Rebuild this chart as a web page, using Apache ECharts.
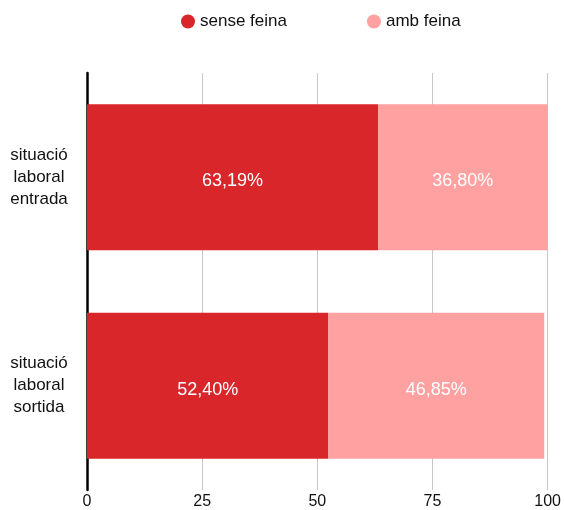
<!DOCTYPE html>
<html>
<head>
<meta charset="utf-8">
<script src="https://cdn.jsdelivr.net/npm/echarts@6/dist/echarts.min.js"></script>
<style>
  html, body { margin: 0; padding: 0; background: #fff; }
  #chart { width: 564px; height: 510px; }
</style>
</head>
<body>
<div id="chart"></div>
<script>
// categories (top to bottom)
const categories = ['situació\nlaboral\nentrada', 'situació\nlaboral\nsortida']
const senseFeina = [63.19, 52.40]
const ambFeina = [36.80, 46.85]
const xTicks = [0, 25, 50, 75, 100]

const fmt = v => v.toFixed(2).replace('.', ',') + '%'

const chart = echarts.init(document.getElementById('chart'))
chart.setOption({
  animation: false,
  textStyle: { fontFamily: 'Liberation Sans, Arial, sans-serif' },
  legend: {
    top: 8,
    left: 176,
    itemGap: 80,
    icon: 'circle',
    itemWidth: 14,
    itemHeight: 14,
    textStyle: { fontSize: 17, color: '#111' },
    data: ['sense feina', 'amb feina']
  },
  grid: { left: 87, right: 14, top: 73, bottom: 14, containLabel: false },
  xAxis: {
    type: 'value',
    min: xTicks[0],
    max: xTicks[xTicks.length - 1],
    interval: 25,
    axisLine: { show: false },
    axisTick: { show: false },
    axisLabel: { color: '#111', fontSize: 16, margin: 4 },
    splitLine: { lineStyle: { color: '#c8c8c8', width: 1 } }
  },
  yAxis: {
    type: 'category',
    inverse: true,
    data: categories,
    axisLine: { lineStyle: { color: '#000', width: 2.5 } },
    axisTick: { show: false },
    axisLabel: { color: '#111', fontSize: 17, lineHeight: 22, margin: 48, align: 'center' }
  },
  series: [
    {
      name: 'sense feina',
      type: 'bar',
      stack: 'total',
      barCategoryGap: '30%',
      data: senseFeina,
      itemStyle: { color: '#d9262b' },
      label: { show: true, position: 'inside', color: '#fff', fontSize: 18, offset: [0, 4], formatter: p => fmt(p.value) }
    },
    {
      name: 'amb feina',
      type: 'bar',
      stack: 'total',
      data: ambFeina,
      itemStyle: { color: '#ffa0a1' },
      label: { show: true, position: 'inside', color: '#fff', fontSize: 18, offset: [0, 4], formatter: p => fmt(p.value) }
    }
  ]
})
</script>
</body>
</html>
